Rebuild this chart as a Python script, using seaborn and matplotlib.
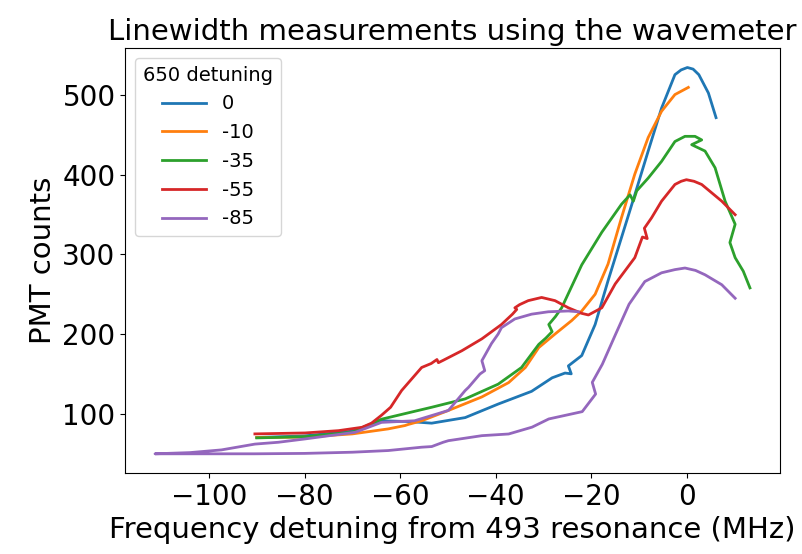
import pandas as pd
import matplotlib
matplotlib.use('Agg')
import matplotlib.pyplot as plt
import seaborn as sns

labels = ['0', '-10', '-35', '-55', '-85']
colors = ['#1f77b4', '#ff7f0e', '#2ca02c', '#d62728', '#9467bd']

x_0 = [-90, -80, -70, -64, -58, -53.4, -46.4, -39.5, -32.5, -28.2, -25.5, -24.2,
       -24.8, -22, -19.2, -16.5, -13.7, -10.9, -8.1, -5.3, -2.5, -1.2, 0.1, 1.3,
       2.5, 4.5, 6.1]
y_0 = [70, 72, 78, 91, 90, 88, 95, 112, 128, 145, 151, 150,
       160, 173, 212, 267, 321, 375, 430, 484, 526, 532, 535, 533,
       526, 503, 472]

x_10 = [-90, -80, -70, -62.5, -59.0, -58.3, -55.5, -49.9, -42.9, -37.3, -33.8, -31,
        -27.6, -24.1, -22, -19.2, -16.5, -13.7, -10.9, -8.1, -5.3, -2.5, 0.3]
y_10 = [70, 70.5, 74.5, 80.8, 85, 86.4, 91, 104, 121, 139, 158, 183,
        200, 217, 229, 250, 288, 346, 401, 447, 480, 501, 510]

x_35 = [-90, -80, -70, -63.9, -53.4, -46.4, -39.5, -34.6, -31, -29.5, -28.2, -28.9,
        -27.5, -26.2, -22, -17.8, -13.7, -11.9, -11.2, -10.5, -8.1, -5.3, -2.5, -0.4,
        1.7, 3.1, 1.0, 3.8, 5.9, 8.0, 10.1, 9.0, 10.1, 11.8, 13.2]
y_35 = [69.5, 71, 76.6, 93, 108, 118.5, 137, 158, 187, 195, 203, 212,
        222, 233, 287, 328, 363, 375, 367, 380, 396, 417, 442, 448.5,
        448.5, 444, 438, 430, 409, 367, 338, 315, 296, 279, 258]

x_55 = [-90.4, -79.9, -72.9, -68, -66, -63.9, -62, -59.7, -55.5, -53.5, -52.3, -52.0,
        -51, -47.1, -42.9, -38.8, -36.5, -35.6, -36.0, -35, -33.2, -30.4, -27.6, -24.8,
        -22, -20.6, -17.8, -15, -10.9, -9.3, -8.3, -8.9, -7.4, -5.3, -2.5, -1.2,
        -0.1, 1.5, 3.1, 7.3, 10.1]
y_55 = [74.5, 75.7, 78.6, 82.8, 88, 98, 108, 129, 158, 163, 168, 164,
        167, 179, 194, 212, 225, 231, 233, 237, 242, 246, 242, 233,
        226, 224, 233, 263, 296, 322, 320, 333, 346, 367, 388, 392,
        394, 392, 388, 367, 350]

x_85 = [-22.7, -24.8, -29, -32.5, -36, -38.8, -39.5, -40.9, -42.9, -42.3, -43.3, -45.7,
        -46.4, -49.9, -57, -63.9, -69.4, -79.9, -85.5, -90.4, -97.4, -104, -111.3,
        -100, -90.4, -80, -70, -62.5, -55.5, -53.4, -51, -49.9, -42.9, -37.3, -32.4,
        -28.9, -21.9, -19.1, -19.8, -17.7, -14.9, -12.1, -8.8, -5.3, -2.5, -0.4, 1.8,
        3.8, 7.3, 10.1]
y_85 = [228, 229, 228, 225, 219, 208, 200, 188, 166.5, 154, 149.8, 133,
        129, 104, 91, 89, 76.6, 68.2, 64, 61.7, 54.4, 51, 49.5,
        49.5, 49.5, 50, 51.5, 53.6, 57.8, 58.6, 64, 66, 72.3, 74.4, 83,
        93.3, 102.5, 124.6, 139.3, 162, 200, 237.5, 266, 277, 281, 283, 280,
        274.5, 262, 245]

series = [(x_0, y_0), (x_10, y_10), (x_35, y_35), (x_55, y_55), (x_85, y_85)]

frames = []
for lab, (xs, ys) in zip(labels, series):
    frames.append(pd.DataFrame({'freq': xs, 'counts': ys, 'detuning': lab}))
df = pd.concat(frames, ignore_index=True)

fig, ax = plt.subplots(figsize=(8.03, 5.54), dpi=100)
fig.subplots_adjust(left=0.156, right=0.971, bottom=0.146, top=0.913)

# sort=False: cada curva se dibuja en el orden del barrido (hay histeresis)
sns.lineplot(data=df, x='freq', y='counts', hue='detuning', hue_order=labels,
             palette=colors, sort=False, estimator=None, units='detuning',
             linewidth=2, ax=ax)

ax.set_title('Linewidth measurements using the wavemeter', fontsize=21)
ax.set_xlabel('Frequency detuning from 493 resonance (MHz)', fontsize=21)
ax.set_ylabel('PMT counts', fontsize=21)
ax.tick_params(labelsize=20)
ax.set_xticks([-100, -80, -60, -40, -20, 0])
ax.set_yticks([100, 200, 300, 400, 500])
ax.legend(title='650 detuning', loc='upper left', fontsize=14, title_fontsize=14,
          handlelength=2.3)

plt.savefig('out.png', dpi=100)
